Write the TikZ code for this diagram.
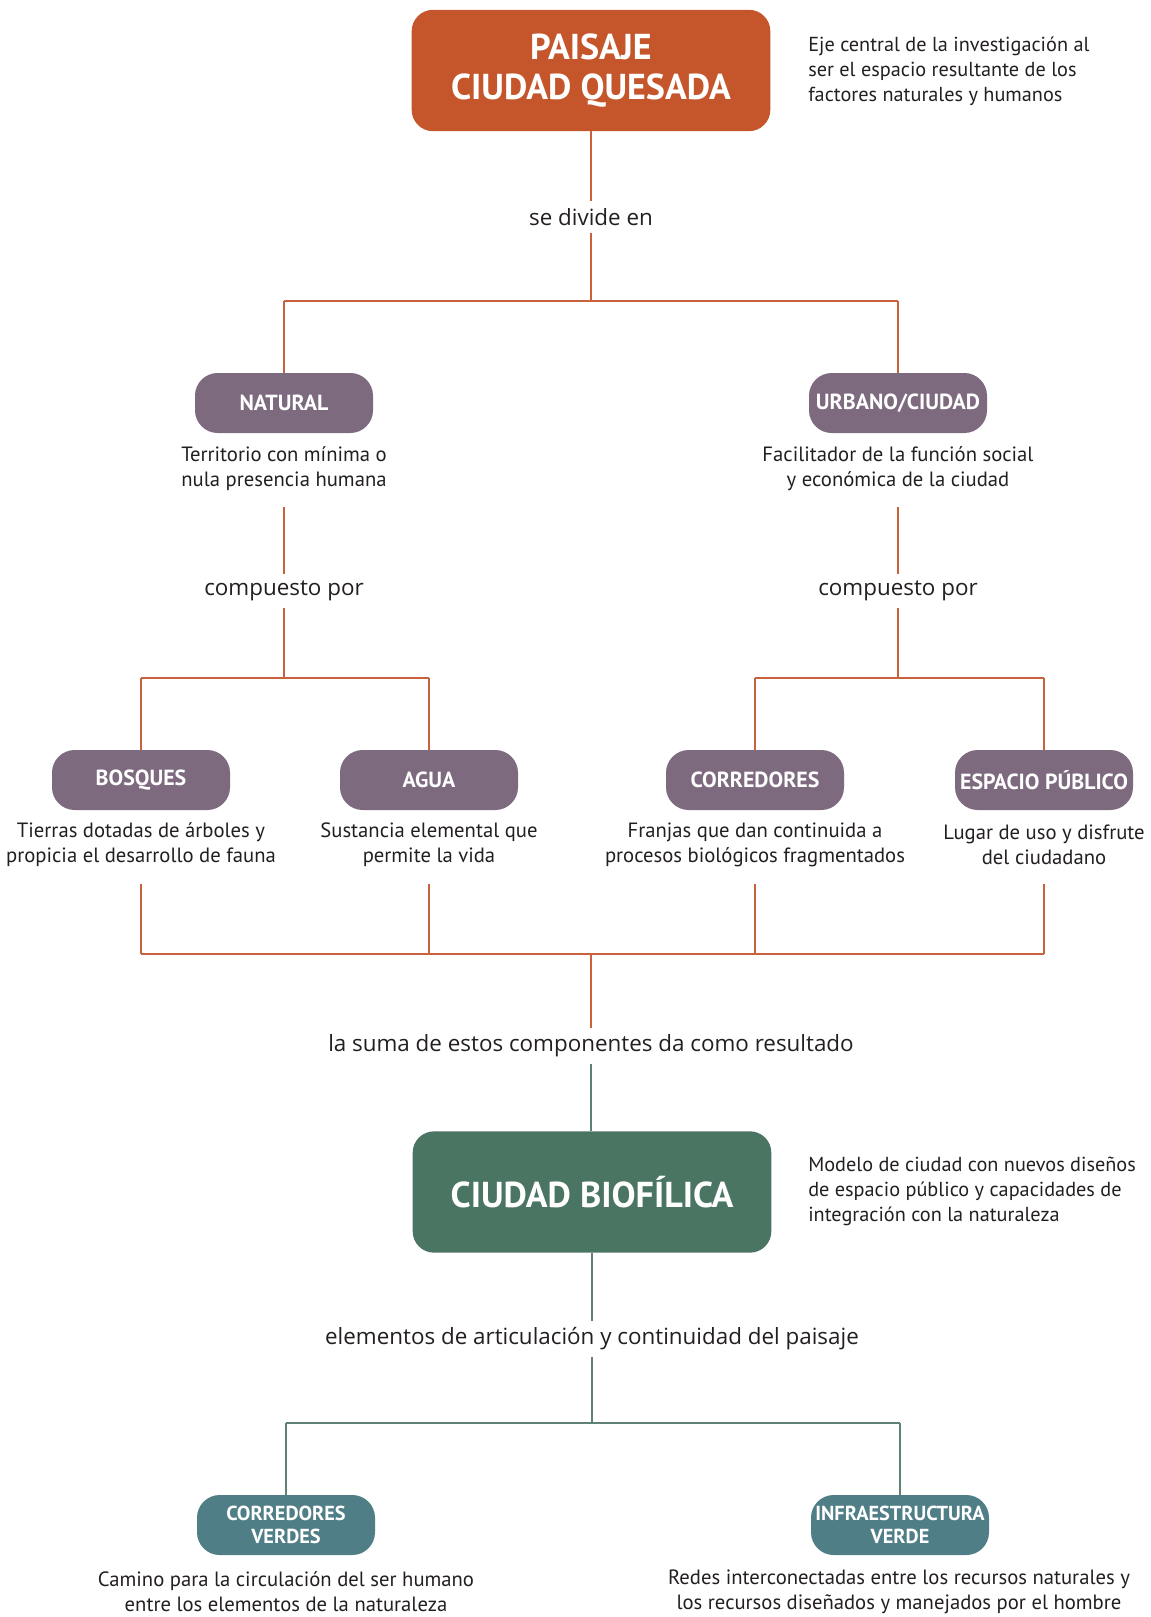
\documentclass[tikz,border=0pt]{standalone}
\usepackage{fontspec}
\setmainfont{PT Sans}
\newfontfamily\lblfont{Open Sans}
\begin{document}
\begin{tikzpicture}[x=0.75pt,y=-0.75pt,
  txt/.style={text=textdark,font=\fontsize{15.5}{18.75}\selectfont,align=center,inner sep=0pt},
  note/.style={text=textdark,font=\fontsize{15.2}{18.75}\selectfont,align=left,inner sep=0pt,anchor=west},
  lbl/.style={text=textdark,font=\lblfont\fontsize{16.8}{19}\selectfont,fill=white,inner sep=5pt},
  bigbox/.style={rounded corners=16pt,minimum width=269pt,minimum height=91pt,text=white,font=\bfseries\fontsize{27}{29.5}\selectfont,align=center,inner sep=0pt},
  pill/.style={fill=purplebox,rounded corners=17pt,minimum width=133.5pt,minimum height=45pt,text=white,font=\bfseries\fontsize{16.4}{18}\selectfont,align=center,inner sep=0pt},
  tealpill/.style={fill=tealbox,rounded corners=17pt,minimum width=133.5pt,minimum height=45pt,text=white,font=\bfseries\fontsize{15.2}{17.5}\selectfont,align=center,inner sep=0pt},
  oline/.style={draw=orangeline,line width=1.4pt},
  gline/.style={draw=greenline,line width=1.4pt}
]
\definecolor{textdark}{HTML}{231F20}
\definecolor{orangebox}{HTML}{C5562B}
\definecolor{purplebox}{HTML}{7E6A7F}
\definecolor{greenbox}{HTML}{4B7563}
\definecolor{tealbox}{HTML}{4F7E87}
\definecolor{orangeline}{HTML}{C8613C}
\definecolor{greenline}{HTML}{5F8275}
\useasboundingbox (0,0) rectangle (1151,1617);

% top
\node[bigbox,fill=orangebox] (top) at (591,70.5) {PAISAJE\\CIUDAD QUESADA};
\node[note] (topnote) at (808,71) {Eje central de la investigación al\\ser el espacio resultante de los\\factores naturales y humanos};
\node[lbl] (divide) at (591,217) {se divide en};
\coordinate (j1) at (591,301);
\coordinate (j1l) at (284,301);
\coordinate (j1r) at (898,301);

% level 2
\node[pill] (natural) at (284,403) {NATURAL};
\node[pill] (urbano) at (898,403) {URBANO/CIUDAD};
\node[txt] (dnat) at (284,469) {Territorio con mínima o\\nula presencia humana};
\node[txt] (durb) at (898,469) {Facilitador de la función social\\y económica de la ciudad};
\coordinate (dnatb) at (284,507);
\coordinate (durbb) at (898,507);
\node[lbl] (compL) at (284,591) {compuesto por};
\node[lbl] (compR) at (898,591) {compuesto por};
\coordinate (j2l) at (284,678);
\coordinate (j2r) at (898,678);
\coordinate (j2ll) at (141,678);
\coordinate (j2lr) at (429,678);
\coordinate (j2rl) at (755,678);
\coordinate (j2rr) at (1044,678);

% level 3
\node[pill] (bosques) at (141,780) {BOSQUES};
\node[pill] (agua) at (429,780) {AGUA};
\node[pill] (corr) at (755,780) {CORREDORES};
\node[pill] (esp) at (1044,780) {ESPACIO PÚBLICO};
\node[txt] (dbos) at (141,844.5) {Tierras dotadas de árboles y\\propicia el desarrollo de fauna};
\node[txt] (dagu) at (429,844.5) {Sustancia elemental que\\permite la vida};
\node[txt] (dcor) at (755,844.5) {Franjas que dan continuida a\\procesos biológicos fragmentados};
\node[txt] (desp) at (1044,844.5) {Lugar de uso y disfrute\\del ciudadano};
\coordinate (b1) at (141,884);
\coordinate (b2) at (429,884);
\coordinate (b3) at (755,884);
\coordinate (b4) at (1044,884);
\coordinate (c1) at (141,954);
\coordinate (c2) at (429,954);
\coordinate (c3) at (755,954);
\coordinate (c4) at (1044,954);
\coordinate (cm) at (591,954);
\node[lbl] (suma) at (591,1046) {la suma de estos componentes da como resultado};

% biofilica
\node[bigbox,fill=greenbox] (bio) at (592,1192) {CIUDAD BIOFÍLICA};
\node[note] (bionote) at (808,1191) {Modelo de ciudad con nuevos diseños\\de espacio público y capacidades de\\integración con la naturaleza};
\node[lbl] (elem) at (592,1339) {elementos de articulación y continuidad del paisaje};
\coordinate (j4) at (592,1423);
\coordinate (j4l) at (286,1423);
\coordinate (j4r) at (900,1423);
\node[tealpill] (cverdes) at (286,1525) {CORREDORES\\VERDES};
\node[tealpill] (iverde) at (900,1525) {INFRAESTRUCTURA\\VERDE};
\node[txt] (dcv) at (286,1591.5) {Camino para la circulación del ser humano\\entre los elementos de la naturaleza};
\node[txt] (div) at (899,1591.5) {Redes interconectadas entre los recursos naturales y\\los recursos diseñados y manejados por el hombre};

% orange connectors
\draw[oline] (top.south) -- (divide.north);
\draw[oline] (divide.south) -- (j1);
\draw[oline] (j1l) -- (j1r);
\draw[oline] (j1l) -- (natural.north);
\draw[oline] (j1r) -- (urbano.north);
\draw[oline] (dnatb) -- (compL.north);
\draw[oline] (compL.south) -- (j2l);
\draw[oline] (durbb) -- (compR.north);
\draw[oline] (compR.south) -- (j2r);
\draw[oline] (j2ll) -- (j2lr);
\draw[oline] (j2rl) -- (j2rr);
\draw[oline] (j2ll) -- (bosques.north);
\draw[oline] (j2lr) -- (agua.north);
\draw[oline] (j2rl) -- (corr.north);
\draw[oline] (j2rr) -- (esp.north);
\draw[oline] (b1) -- (c1);
\draw[oline] (b2) -- (c2);
\draw[oline] (b3) -- (c3);
\draw[oline] (b4) -- (c4);
\draw[oline] (c1) -- (c4);
\draw[oline] (cm) -- (suma.north);
% green connectors
\draw[gline] (suma.south) -- (suma.south |- bio.north);
\draw[gline] (bio.south) -- (elem.north);
\draw[gline] (elem.south) -- (j4);
\draw[gline] (j4l) -- (j4r);
\draw[gline] (j4l) -- (cverdes.north);
\draw[gline] (j4r) -- (iverde.north);
\end{tikzpicture}
\end{document}
